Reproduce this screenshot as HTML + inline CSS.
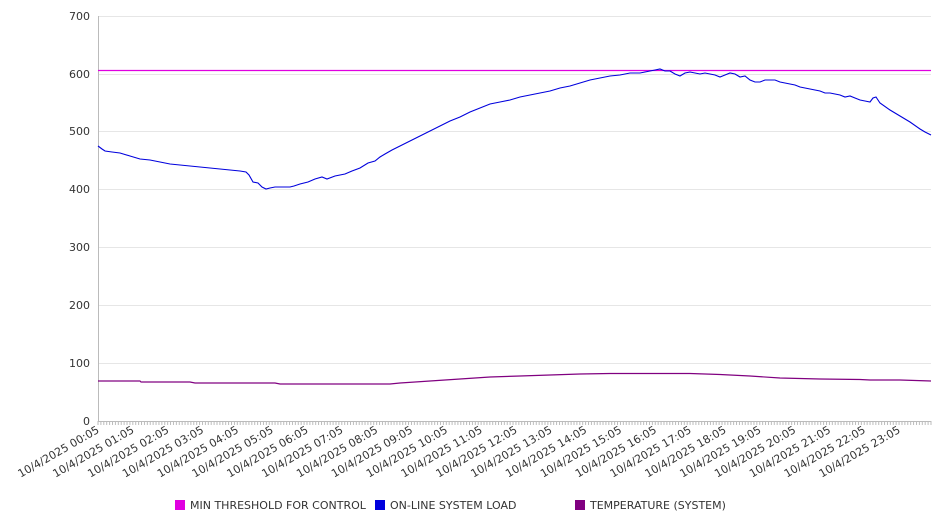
<!DOCTYPE html>
<html><head><meta charset="utf-8"><style>
body{margin:0;background:#fff;}
svg{display:block;font-family:"DejaVu Sans","Liberation Sans",sans-serif;}
</style></head><body>
<svg width="946" height="526" xmlns="http://www.w3.org/2000/svg">
<defs>
<pattern id="tk" patternUnits="userSpaceOnUse" x="97.5" y="421" width="2.90244" height="5">
<rect x="0" y="0" width="1" height="5" fill="#bbb"/>
</pattern>
</defs>
<g stroke="#e6e6e6" stroke-width="1">
<line x1="98" y1="16.5" x2="931" y2="16.5"/><line x1="98" y1="74.5" x2="931" y2="74.5"/>
<line x1="98" y1="131.5" x2="931" y2="131.5"/><line x1="98" y1="189.5" x2="931" y2="189.5"/>
<line x1="98" y1="247.5" x2="931" y2="247.5"/><line x1="98" y1="305.5" x2="931" y2="305.5"/>
<line x1="98" y1="363.5" x2="931" y2="363.5"/>
</g>
<line x1="98.5" y1="16" x2="98.5" y2="421" stroke="#bbb"/>
<line x1="98" y1="421.5" x2="931" y2="421.5" stroke="#bbb"/>
<rect x="97.5" y="421" width="834" height="4" fill="url(#tk)"/>
<g font-size="11" fill="#333" text-anchor="end">
<text x="90" y="20">700</text><text x="90" y="78">600</text><text x="90" y="135">500</text>
<text x="90" y="193">400</text><text x="90" y="251">300</text><text x="90" y="309">200</text>
<text x="90" y="367">100</text><text x="90" y="425">0</text>
</g>
<g font-size="11" fill="#333" text-anchor="end">
<text transform="translate(100,432) rotate(-30)">10/4/2025 00:05</text>
<text transform="translate(134.8,432) rotate(-30)">10/4/2025 01:05</text>
<text transform="translate(169.7,432) rotate(-30)">10/4/2025 02:05</text>
<text transform="translate(204.5,432) rotate(-30)">10/4/2025 03:05</text>
<text transform="translate(239.3,432) rotate(-30)">10/4/2025 04:05</text>
<text transform="translate(274.1,432) rotate(-30)">10/4/2025 05:05</text>
<text transform="translate(309,432) rotate(-30)">10/4/2025 06:05</text>
<text transform="translate(343.8,432) rotate(-30)">10/4/2025 07:05</text>
<text transform="translate(378.6,432) rotate(-30)">10/4/2025 08:05</text>
<text transform="translate(413.5,432) rotate(-30)">10/4/2025 09:05</text>
<text transform="translate(448.3,432) rotate(-30)">10/4/2025 10:05</text>
<text transform="translate(483.1,432) rotate(-30)">10/4/2025 11:05</text>
<text transform="translate(518,432) rotate(-30)">10/4/2025 12:05</text>
<text transform="translate(552.8,432) rotate(-30)">10/4/2025 13:05</text>
<text transform="translate(587.6,432) rotate(-30)">10/4/2025 14:05</text>
<text transform="translate(622.4,432) rotate(-30)">10/4/2025 15:05</text>
<text transform="translate(657.3,432) rotate(-30)">10/4/2025 16:05</text>
<text transform="translate(692.1,432) rotate(-30)">10/4/2025 17:05</text>
<text transform="translate(726.9,432) rotate(-30)">10/4/2025 18:05</text>
<text transform="translate(761.8,432) rotate(-30)">10/4/2025 19:05</text>
<text transform="translate(796.6,432) rotate(-30)">10/4/2025 20:05</text>
<text transform="translate(831.4,432) rotate(-30)">10/4/2025 21:05</text>
<text transform="translate(866.2,432) rotate(-30)">10/4/2025 22:05</text>
<text transform="translate(901.1,432) rotate(-30)">10/4/2025 23:05</text>
</g>
<line x1="98" y1="70.5" x2="931" y2="70.5" stroke="#e000e0" stroke-width="1.2"/>
<polyline fill="none" stroke="#0000dd" stroke-width="1.1" points="98,146 102,149 105,151 112,152 120,153 130,156 140,159 150,160 160,162 170,164 180,165 190,166 200,167 210,168 220,169 230,170 240,171 246,172 249,175 253,182 258,183 262,187 266,189 270,188 275,187 285,187 290,187 294,186 300,184 308,182 315,179 322,177 327,179 335,176 345,174 352,171 360,168 368,163 375,161 380,157 385,154 392,150 400,146 410,141 420,136 430,131 440,126 450,121 460,117 470,112 480,108 490,104 500,102 510,100 520,97 530,95 540,93 550,91 560,88 570,86 580,83 590,80 600,78 610,76 620,75 630,73 640,73 650,71 655,70 660,69 665,71 670,71 675,74 680,76 685,73 690,72 700,74 705,73 710,74 715,75 720,77 725,75 730,73 735,74 740,77 745,76 750,80 755,82 760,82 765,80 770,80 775,80 780,82 785,83 790,84 795,85 800,87 805,88 810,89 815,90 820,91 825,93 830,93 835,94 840,95 845,97 850,96 855,98 860,100 865,101 870,102 873,98 876,97 880,103 890,110 900,116 910,122 920,129 925,132 931,135"/>
<polyline fill="none" stroke="#800080" stroke-width="1.2" points="98,381 140,381 141,382 190,382 195,383 275,383 280,384 390,384 400,383 430,381 460,379 490,377 520,376 550,375 580,374 610,373.5 690,373.5 720,374.5 750,376 780,378 820,379 860,379.5 870,380 900,380 931,381"/>
<g font-size="11" fill="#333">
<rect x="175" y="500" width="10" height="10" fill="#e000e0"/><text x="190" y="509">MIN THRESHOLD FOR CONTROL</text>
<rect x="375" y="500" width="10" height="10" fill="#0000dd"/><text x="390" y="509">ON-LINE SYSTEM LOAD</text>
<rect x="575" y="500" width="10" height="10" fill="#800080"/><text x="590" y="509">TEMPERATURE (SYSTEM)</text>
</g>
</svg>
</body></html>
